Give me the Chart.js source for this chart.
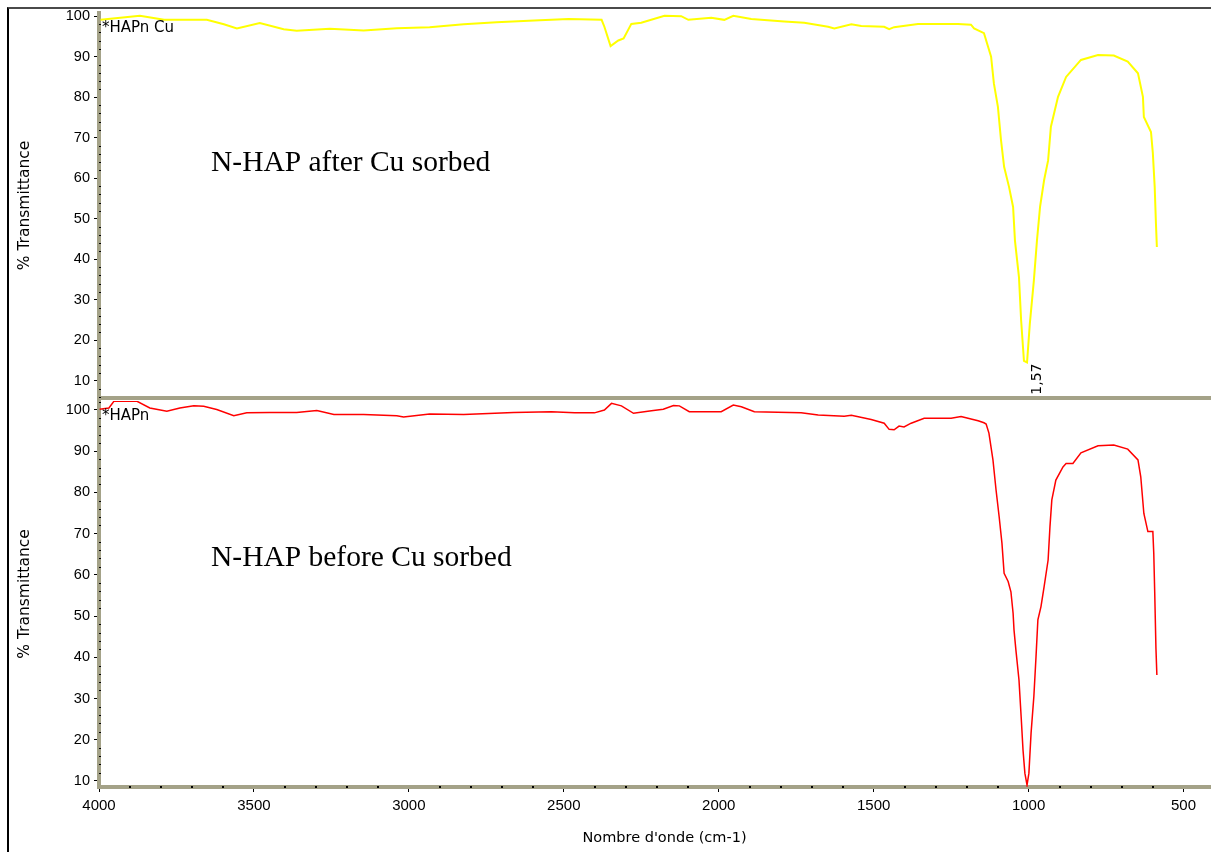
<!DOCTYPE html>
<html>
<head>
<meta charset="utf-8">
<title>FTIR N-HAP</title>
<script src="https://cdn.jsdelivr.net/npm/chart.js@4.4.1/dist/chart.umd.min.js"></script>
<style>
  html, body { margin: 0; padding: 0; background: #fff; overflow: hidden; }
  #wrap { position: relative; width: 1211px; height: 852px; overflow: hidden; }
  #wrap canvas { position: absolute; left: 0; }
  #afterCu { top: 0; }
  #beforeCu { top: 400px; }
  #frame { position: absolute; left: 7px; top: 7px; width: 2000px; height: 2000px;
           border-left: 2px solid #000; border-top: 2px solid #4a4a4a; pointer-events: none; }
</style>
</head>
<body>
<div id="wrap">
  <div id="frame"></div>
  <canvas id="afterCu" width="1230" height="400"></canvas>
  <canvas id="beforeCu" width="1230" height="452"></canvas>
</div>
<script>
// spectrum after Cu sorption (*HAPn Cu)
const cuWave = [
  3995, 3868, 3790, 3652, 3597, 3555, 3481, 3404, 3362, 3255,
  3146, 3039, 2933, 2823, 2717, 2578, 2540, 2485, 2378, 2369,
  2349, 2324, 2307, 2282, 2250, 2175, 2121, 2098, 2024, 1982,
  1953, 1895, 1789, 1724, 1647, 1627, 1572, 1540, 1466, 1450,
  1434, 1357, 1250, 1228, 1186, 1176, 1144, 1121, 1112, 1099,
  1089, 1079, 1063, 1050, 1044, 1031, 1024, 1015, 1005, 996,
  983, 973, 963, 950, 937, 928, 905, 879, 831, 776,
  725, 680, 647, 631, 628, 605, 599, 593, 589, 586
];
const cuTrans = [
  99.1, 100.1, 99.1, 99.1, 98.0, 97.0, 98.3, 96.8, 96.4, 96.9,
  96.5, 97.0, 97.3, 98.0, 98.5, 99.0, 99.1, 99.3, 99.1, 97.4,
  92.6, 94.0, 94.5, 98.1, 98.4, 100.1, 100.0, 99.1, 99.6, 99.1,
  100.1, 99.3, 98.7, 98.4, 97.4, 97.0, 98.0, 97.6, 97.4, 96.8,
  97.3, 98.1, 98.1, 98.1, 97.9, 97.0, 95.8, 90.0, 83.4, 77.6,
  69.4, 62.8, 57.8, 52.9, 44.6, 35.5, 24.8, 14.9, 14.5, 24.1,
  34.7, 44.6, 52.9, 59.5, 64.4, 72.7, 80.1, 85.0, 89.2, 90.4,
  90.3, 88.8, 85.9, 80.1, 75.1, 71.4, 66.2, 57.8, 48.8, 43.0
];

// spectrum before Cu sorption (*HAPn)
const hapWave = [
  3998, 3968, 3952, 3877, 3836, 3781, 3739, 3694, 3662, 3620,
  3565, 3523, 3449, 3362, 3297, 3242, 3146, 3039, 3017, 2933,
  2823, 2662, 2540, 2465, 2401, 2369, 2346, 2314, 2275, 2217,
  2179, 2146, 2127, 2095, 1992, 1953, 1927, 1885, 1734, 1679,
  1595, 1572, 1508, 1466, 1450, 1434, 1418, 1402, 1379, 1337,
  1250, 1218, 1163, 1144, 1137, 1128, 1115, 1105, 1095, 1086,
  1079, 1066, 1057, 1050, 1047, 1041, 1031, 1024, 1018, 1012,
  1005, 999, 992, 983, 976, 970, 960, 950, 937, 931,
  925, 912, 889, 879, 857, 831, 776, 725, 680, 647,
  638, 628, 615, 599, 596, 593, 589, 586
];
const hapTrans = [
  100.2, 100.5, 102.1, 102.1, 100.5, 99.7, 100.5, 101.0, 100.9, 100.1,
  98.6, 99.3, 99.4, 99.4, 99.9, 98.9, 98.9, 98.6, 98.3, 99.0,
  98.9, 99.4, 99.6, 99.3, 99.3, 100.0, 101.6, 101.0, 99.2, 99.8,
  100.2, 101.1, 101.0, 99.6, 99.6, 101.2, 100.8, 99.6, 99.3, 98.8,
  98.5, 98.7, 97.7, 96.8, 95.3, 95.2, 96.1, 95.9, 96.8, 98.0,
  98.0, 98.4, 97.4, 96.9, 96.6, 94.4, 87.9, 80.6, 74.1, 67.7,
  60.4, 58.4, 55.9, 50.7, 46.6, 41.8, 34.5, 25.6, 17.5, 11.9,
  9.0, 11.9, 21.6, 30.5, 40.2, 49.1, 52.3, 57.1, 63.6, 71.7,
  78.2, 83.0, 86.2, 87.0, 87.0, 89.6, 91.3, 91.5, 90.5, 87.9,
  83.8, 74.9, 70.5, 70.5, 65.2, 55.9, 42.2, 35.7
];

const xTicks = [4000, 3500, 3000, 2500, 2000, 1500, 1000, 500];
const yTicks = [10, 20, 30, 40, 50, 60, 70, 80, 90, 100];

const axisColor = '#a4a288';
const sans = '"Liberation Sans", Arial, sans-serif';
const uiFont = '"DejaVu Sans", Verdana, sans-serif';

function toPoints(xs, ys) {
  return xs.map((x, i) => ({ x: x, y: ys[i] }));
}

// small black ticks sitting on the thick axis lines
const minorTicks = {
  id: 'minorTicks',
  afterDraw(chart) {
    const { ctx, chartArea, scales: { x, y } } = chart;
    ctx.save();
    ctx.fillStyle = '#000';
    for (let v = Math.ceil(y.min / 2) * 2; v <= y.max; v += 2) {
      if (v % 10 === 0) continue;
      ctx.fillRect(chartArea.left, Math.round(y.getPixelForValue(v)), 2, 1);
    }
    if (chart.options.plugins.minorTicks.xAxis) {
      for (let w = 400; w < 4000; w += 100) {
        if (w % 500 === 0) continue;
        ctx.fillRect(Math.round(x.getPixelForValue(w)) - 1, chartArea.bottom - 1, 2, 2);
      }
    }
    ctx.restore();
  }
};

// spectrum tag, sample caption and peak label
const panelText = {
  id: 'panelText',
  afterDatasetsDraw(chart, args, opts) {
    const { ctx, chartArea } = chart;
    ctx.save();
    ctx.fillStyle = '#000';
    ctx.textBaseline = 'middle';
    ctx.textAlign = 'left';
    ctx.font = '15px ' + uiFont;
    ctx.fillText(opts.tag, chartArea.left + 3, opts.tagY);
    ctx.font = '29.5px "Liberation Serif", "Times New Roman", serif';
    ctx.fillText(opts.caption, 211, opts.captionY);
    if (opts.peakLabel) {
      const vals = chart.data.datasets[0].data;
      let k = 0;
      vals.forEach((p, i) => { if (p.y < vals[k].y) k = i; });
      const pt = chart.getDatasetMeta(0).data[k];
      ctx.translate(pt.x + 10, pt.y + 1);
      ctx.rotate(-Math.PI / 2);
      ctx.textAlign = 'right';
      ctx.font = '14px ' + uiFont;
      ctx.fillText(opts.peakLabel, 0, 0);
    }
    ctx.restore();
  }
};

function yScale(min, max) {
  return {
    min: min,
    max: max,
    afterBuildTicks: s => { s.ticks = yTicks.map(v => ({ value: v })); },
    afterFit: s => { s.width = 99; s.paddingTop = 0; s.paddingBottom = 0; },
    ticks: { color: '#000', font: { family: sans, size: 14.5 }, padding: 4 },
    grid: { display: true, drawOnChartArea: false, drawTicks: true, tickLength: 5, tickColor: '#000', tickWidth: 1 },
    border: { display: true, color: axisColor, width: 4 },
    title: { display: true, text: '% Transmittance', color: '#000', font: { family: uiFont, size: 15.5 }, padding: { top: 15.7, bottom: 0 } }
  };
}

const baseOptions = {
  responsive: false,
  animation: false,
  events: [],
  elements: { point: { radius: 0 }, line: { tension: 0 } }
};

new Chart(document.getElementById('afterCu'), {
  type: 'line',
  data: {
    datasets: [{ data: toPoints(cuWave, cuTrans), borderColor: '#ffff00', borderWidth: 2, fill: false }]
  },
  options: Object.assign({}, baseOptions, {
    layout: { padding: { top: 13, right: 0, bottom: 0, left: 0 } },
    plugins: {
      legend: { display: false },
      tooltip: { enabled: false },
      minorTicks: { xAxis: false },
      panelText: { tag: '*HAPn Cu', tagY: 28, caption: 'N-HAP after Cu sorbed', captionY: 163, peakLabel: '1,57' }
    },
    scales: {
      x: {
        type: 'linear', min: 350, max: 4000, reverse: true,
        afterFit: s => { s.height = 2; s.paddingLeft = 0; s.paddingRight = 0; },
        ticks: { display: false },
        grid: { display: false },
        border: { display: true, color: axisColor, width: 4 }
      },
      y: yScale(5.73, 100.79)
    }
  }),
  plugins: [minorTicks, panelText]
});

new Chart(document.getElementById('beforeCu'), {
  type: 'line',
  data: {
    datasets: [{ data: toPoints(hapWave, hapTrans), borderColor: '#ff0000', borderWidth: 1.5, fill: false }]
  },
  options: Object.assign({}, baseOptions, {
    layout: { padding: { top: 1, right: 0, bottom: 0, left: 0 } },
    plugins: {
      legend: { display: false },
      tooltip: { enabled: false },
      minorTicks: { xAxis: true },
      panelText: { tag: '*HAPn', tagY: 16, caption: 'N-HAP before Cu sorbed', captionY: 158 }
    },
    scales: {
      x: {
        type: 'linear', min: 350, max: 4000, reverse: true,
        afterBuildTicks: s => { s.ticks = xTicks.map(v => ({ value: v })); },
        afterFit: s => { s.height = 65; s.paddingLeft = 0; s.paddingRight = 0; },
        ticks: { color: '#000', font: { family: sans, size: 15 }, padding: 5, maxRotation: 0, autoSkip: false, callback: v => String(v) },
        grid: { display: true, drawOnChartArea: false, drawTicks: true, tickLength: 5, tickColor: '#000', tickWidth: 1 },
        border: { display: true, color: axisColor, width: 4 },
        title: { display: true, text: "Nombre d'onde (cm-1)", color: '#000', font: { family: uiFont, size: 14.5 }, padding: { top: 0, bottom: 5.3 } }
      },
      y: yScale(8.54, 102.18)
    }
  }),
  plugins: [minorTicks, panelText]
});
</script>
</body>
</html>
